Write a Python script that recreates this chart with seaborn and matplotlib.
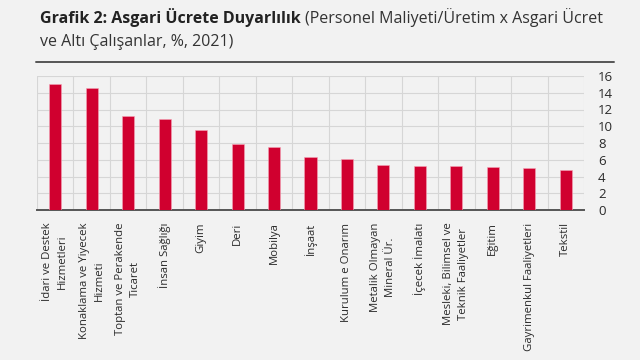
import numpy as np
import pandas as pd
import matplotlib.pyplot as plt
import seaborn as sns

# Donnees
sectors = [
    "İdari ve Destek\nHizmetleri",
    "Konaklama ve Yiyecek\nHizmeti",
    "Toptan ve Perakende\nTicaret",
    "İnsan Sağlığı",
    "Giyim",
    "Deri",
    "Mobilya",
    "İnşaat",
    "Kurulum e Onarım",
    "Metalik Olmayan\nMineral Ür.",
    "İçecek İmalatı",
    "Mesleki, Bilimsel ve\nTeknik Faaliyetler",
    "Eğitim",
    "Gayrimenkul Faaliyetleri",
    "Tekstil",
]
values = [15.0, 14.6, 11.2, 10.9, 9.6, 7.9, 7.5, 6.3, 6.1, 5.4, 5.2, 5.2, 5.1, 5.0, 4.8]
y_ticks = list(range(0, 17, 2))

BG = "#f2f2f2"
RED = "#d0002f"

sns.set_theme(style="white")
plt.rcParams['font.family'] = ['Open Sans', 'DejaVu Sans']

df = pd.DataFrame({"sector": sectors, "value": values})

fig = plt.figure(figsize=(6.4, 3.6), dpi=100)
fig.patch.set_facecolor(BG)
ax = fig.add_axes([37 / 640, 1 - 210 / 360, (584 - 37) / 640, (210 - 76) / 360])
ax.set_facecolor(BG)

sns.barplot(data=df, x="sector", y="value", color=RED, saturation=1, width=0.33,
            edgecolor="#f5a3b4", linewidth=0.4, ax=ax, zorder=3)

ax.set_ylim(0, 16)
ax.set_xlim(-0.5, len(sectors) - 0.5)
ax.set_yticks(y_ticks)
ax.yaxis.tick_right()
ax.tick_params(axis="y", length=0, labelsize=9.5, colors="#2a2a2a", pad=10)
ax.tick_params(axis="x", length=0, labelsize=8.2, colors="#2a2a2a", pad=9)
for lab in ax.get_xticklabels():
    lab.set_rotation(90)
    lab.set_ha("center")
    lab.set_va("top")
    lab.set_multialignment("center")
    lab.set_linespacing(1.5)

# grille: lignes verticales entre les categories
ax.set_xticks(np.arange(-0.5, len(sectors), 1), minor=True)
ax.grid(which="minor", axis="x", color="#d6d6d6", linewidth=0.8, zorder=0)
ax.grid(which="major", axis="y", color="#d6d6d6", linewidth=0.8, zorder=0)
ax.set_xlabel("")
ax.set_ylabel("")
for side in ["top", "right", "left"]:
    ax.spines[side].set_visible(False)
ax.spines["bottom"].set_color("#555555")
ax.spines["bottom"].set_linewidth(1.4)

# ligne superieure
fig.add_artist(plt.Line2D([36 / 640, 614 / 640], [1 - 62 / 360, 1 - 62 / 360],
                          color="#555555", linewidth=1.4))

# titre
t1 = fig.text(40 / 640, 1 - 18 / 360, "Grafik 2: Asgari Ücrete Duyarlılık",
              fontsize=11.5, fontweight="bold", color="#222222", va="center")
fig.canvas.draw()
bb = t1.get_window_extent()
fig.text(bb.x1 / 640 + 0.006, 1 - 18 / 360,
         "(Personel Maliyeti/Üretim x Asgari Ücret",
         fontsize=11.5, color="#333333", va="center")
fig.text(40 / 640, 1 - 42 / 360, "ve Altı Çalışanlar, %, 2021)",
         fontsize=11.5, color="#333333", va="center")

fig.savefig("out.png", dpi=100, facecolor=BG)
